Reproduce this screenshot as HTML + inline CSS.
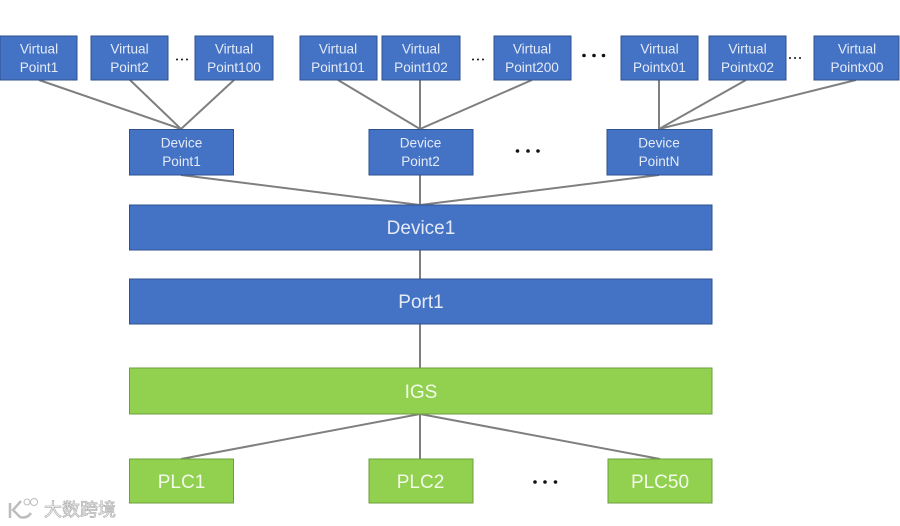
<!DOCTYPE html>
<html><head><meta charset="utf-8"><style>
html,body{margin:0;padding:0;background:#fff;width:900px;height:526px;overflow:hidden}
svg{display:block}
.b{fill:#4472c4;stroke:#2f528f;stroke-width:1}
.g{fill:#92d050;stroke:#6f9f3c;stroke-width:1}
.l{stroke:#7f7f7f;stroke-width:2;fill:none}
text{font-family:"Liberation Sans","Noto Sans CJK SC",sans-serif;text-anchor:middle}
.t{fill:#e4ebf7;font-size:13.6px}
.m{fill:#e4ebf7;font-size:19px}
.p{fill:#f2fae8;font-size:19px}
.d{fill:#111;font-weight:bold}
</style></head><body>
<svg width="900" height="526" viewBox="0 0 900 526" xmlns="http://www.w3.org/2000/svg">
<g class="l">
<path d="M39 80L181 129M130 80L181 129M234 80L181 129"/>
<path d="M338 80L420 129M420 80V129M532 80L420 129"/>
<path d="M659 80V129M746 80L659 129M856 80L659 129"/>
<path d="M181 175L420 205M420 175V205M659 175L420 205"/>
<path d="M420 250V279M420 324V368"/>
<path d="M420 414L181 459M420 414V459M420 414L660 459"/>
</g>
<g class="b">
<rect x="0" y="36" width="77" height="44"/><rect x="91" y="36" width="77" height="44"/><rect x="195" y="36" width="78" height="44"/>
<rect x="300" y="36" width="77" height="44"/><rect x="382" y="36" width="78" height="44"/><rect x="494" y="36" width="77" height="44"/>
<rect x="621" y="36" width="77" height="44"/><rect x="709" y="36" width="77" height="44"/><rect x="814" y="36" width="85" height="44"/>
<rect x="129.500" y="129.500" width="104" height="45.500"/><rect x="369" y="129.500" width="104" height="45.500"/><rect x="607" y="129.500" width="105" height="45.500"/>
<rect x="129.500" y="205" width="582.500" height="45"/><rect x="129.500" y="279" width="582.500" height="45"/>
</g>
<g class="g">
<rect x="129.500" y="368" width="582.500" height="46"/>
<rect x="129.500" y="459" width="104" height="44"/><rect x="369" y="459" width="104" height="44"/><rect x="608" y="459" width="104" height="44"/>
</g>
<g class="t">
<text x="39" y="53.500">Virtual</text><text x="39" y="72">Point1</text>
<text x="129.500" y="53.500">Virtual</text><text x="129.500" y="72">Point2</text>
<text x="234" y="53.500">Virtual</text><text x="234" y="72">Point100</text>
<text x="338" y="53.500">Virtual</text><text x="338" y="72">Point101</text>
<text x="421" y="53.500">Virtual</text><text x="421" y="72">Point102</text>
<text x="532" y="53.500">Virtual</text><text x="532" y="72">Point200</text>
<text x="659.500" y="53.500">Virtual</text><text x="659.500" y="72">Pointx01</text>
<text x="747.500" y="53.500">Virtual</text><text x="747.500" y="72">Pointx02</text>
<text x="857" y="53.500">Virtual</text><text x="857" y="72">Pointx00</text>
<text x="181.500" y="147.500">Device</text><text x="181.500" y="166">Point1</text>
<text x="420.500" y="147.500">Device</text><text x="420.500" y="166">Point2</text>
<text x="659" y="147.500">Device</text><text x="659" y="166">PointN</text>
</g>
<text class="m" x="421" y="234">Device1</text>
<text class="m" x="421" y="308">Port1</text>
<text class="p" x="421" y="398">IGS</text>
<text class="p" x="181.500" y="488">PLC1</text>
<text class="p" x="420.500" y="488">PLC2</text>
<text class="p" x="660" y="488">PLC50</text>
<g fill="#111">
<circle cx="177" cy="59.500" r="1"/><circle cx="182" cy="59.500" r="1"/><circle cx="187" cy="59.500" r="1"/>
<circle cx="473" cy="59.500" r="1"/><circle cx="478" cy="59.500" r="1"/><circle cx="483" cy="59.500" r="1"/>
<circle cx="790" cy="58" r="1"/><circle cx="795" cy="58" r="1"/><circle cx="800" cy="58" r="1"/>
<circle cx="584" cy="55.500" r="1.800"/><circle cx="594" cy="55.500" r="1.800"/><circle cx="603.500" cy="55.500" r="1.800"/>
<circle cx="517.500" cy="151" r="1.800"/><circle cx="528" cy="151" r="1.800"/><circle cx="538" cy="151" r="1.800"/>
<circle cx="535" cy="482" r="1.800"/><circle cx="545" cy="482" r="1.800"/><circle cx="555.500" cy="482" r="1.800"/>
</g>
<g fill="#fff" stroke="#bdbdbd" stroke-width="1">
<path d="M10 503V518M21 501L13 510L20 517Q27 519 31 513" fill="none" stroke-width="2.500"/>
<circle cx="27" cy="502" r="3" fill="none"/><circle cx="34" cy="502" r="3.500" fill="none"/>
</g>
<text x="80" y="516" style="font-size:18px;fill:#fff;stroke:#b5b5b5;stroke-width:.8">大数跨境</text>
</svg>
</body></html>
